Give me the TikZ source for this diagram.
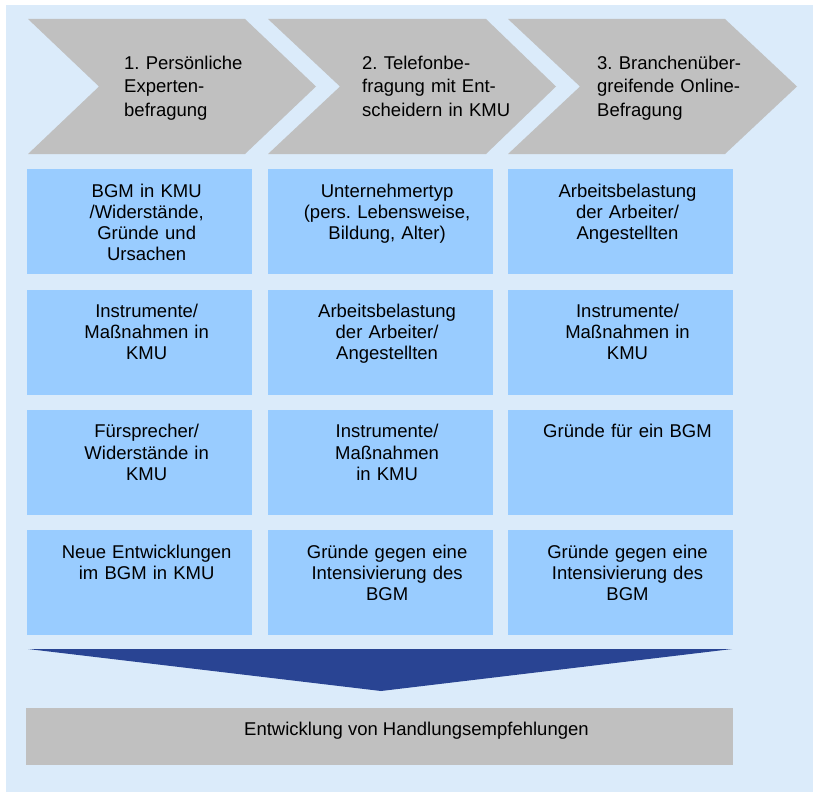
\documentclass[tikz,border=0pt]{standalone}
\usepackage{fontspec}
\setmainfont{Liberation Sans}
\frenchspacing
\usetikzlibrary{positioning}
\definecolor{bgblue}{RGB}{219,235,250}
\definecolor{cellblue}{RGB}{153,204,255}
\definecolor{phasegray}{RGB}{192,192,192}
\definecolor{arrowblue}{RGB}{41,68,147}

\begin{document}
\begin{tikzpicture}[
        x=1pt, y=-1pt,
        node distance = 15pt and 15pt,
        phase/.style={fill=phasegray},
        phasetext/.style={anchor=base west, text width=200pt, align=left, inner sep=0pt,
            font=\fontsize{18.5}{23.3}\selectfont},
        cell/.style={fill=cellblue, minimum width=225pt, minimum height=105pt, inner sep=0pt},
        celltext/.style={anchor=base, text width=215pt, align=center, inner sep=0pt,
            font=\fontsize{18.5}{21.2}\selectfont},
        result/.style={fill=phasegray, minimum width=707pt, minimum height=57pt, inner sep=0pt},
    ]
        \useasboundingbox (0,0) rectangle (813,792);
        \fill[bgblue] (6,5) rectangle (813,792);

        \fill[phase] (28,19) -- (245,19) -- (316,86.5) -- (245,154) -- (28,154) -- (99,86.5) -- cycle;
        \fill[phase] (268,19) -- (486,19) -- (556,86.5) -- (486,154) -- (268,154) -- (340,86.5) -- cycle;
        \fill[phase] (508,19) -- (725,19) -- (797,86.5) -- (725,154) -- (508,154) -- (580,86.5) -- cycle;
        \node[phasetext] (phase1) at (124,69.7) {1. Persönliche\\Experten-\\befragung};
        \node[phasetext] (phase2) at (362,69.7) {2. Telefonbe-\\fragung mit Ent-\\scheidern in KMU};
        \node[phasetext] (phase3) at (597,69.7) {3. Branchenüber-\\greifende Online-\\Befragung};

        \node[cell, anchor=north west] (bgm) at (27,169) {};
        \node[cell, below=of bgm] (instr1) {};
        \node[cell, below=of instr1] (fuersp) {};
        \node[cell, below=of fuersp] (neue) {};
        \node[cell, right=of bgm] (typ) {};
        \node[cell, below=of typ] (belast2) {};
        \node[cell, below=of belast2] (instr2) {};
        \node[cell, below=of instr2] (gegen2) {};
        \node[cell, right=of typ] (belast3) {};
        \node[cell, below=of belast3] (instr3) {};
        \node[cell, below=of instr3] (fuer) {};
        \node[cell, below=of fuer] (gegen3) {};

        \node[celltext] (bgmtext) at ([xshift=7pt, yshift=-28pt]bgm.north) {BGM in KMU\\/Widerstände,\\Gründe und\\Ursachen};
        \node[celltext] (instr1text) at ([xshift=7pt, yshift=-28pt]instr1.north) {Instrumente/\\Maßnahmen in\\KMU};
        \node[celltext] (fuersptext) at ([xshift=7pt, yshift=-28pt]fuersp.north) {Fürsprecher/\\Widerstände in\\KMU};
        \node[celltext] (neuetext) at ([xshift=7pt, yshift=-28pt]neue.north) {Neue Entwicklungen\\im BGM in KMU};
        \node[celltext] (typtext) at ([xshift=7pt, yshift=-28pt]typ.north) {Unternehmertyp\\(pers. Lebensweise,\\Bildung, Alter)};
        \node[celltext] (belast2text) at ([xshift=7pt, yshift=-28pt]belast2.north) {Arbeitsbelastung\\der Arbeiter/\\Angestellten};
        \node[celltext] (instr2text) at ([xshift=7pt, yshift=-28pt]instr2.north) {Instrumente/\\Maßnahmen\\in KMU};
        \node[celltext] (gegen2text) at ([xshift=7pt, yshift=-28pt]gegen2.north) {Gründe gegen eine\\Intensivierung des\\BGM};
        \node[celltext] (belast3text) at ([xshift=7pt, yshift=-28pt]belast3.north) {Arbeitsbelastung\\der Arbeiter/\\Angestellten};
        \node[celltext] (instr3text) at ([xshift=7pt, yshift=-28pt]instr3.north) {Instrumente/\\Maßnahmen in\\KMU};
        \node[celltext] (fuertext) at ([xshift=7pt, yshift=-28pt]fuer.north) {Gründe für ein BGM};
        \node[celltext] (gegen3text) at ([xshift=7pt, yshift=-28pt]gegen3.north) {Gründe gegen eine\\Intensivierung des\\BGM};

        \fill[arrowblue] (28,649) -- (732,649) -- (381,691) -- cycle;

        \node[result, anchor=north west] (empf) at (26,708) {};
        \node[anchor=base west, inner sep=0pt, font=\fontsize{18.5}{21.2}\selectfont] (empftext)
            at ([xshift=218pt, yshift=-27.4pt]empf.north west) {Entwicklung von Handlungsempfehlungen};
    \end{tikzpicture}
\end{document}
